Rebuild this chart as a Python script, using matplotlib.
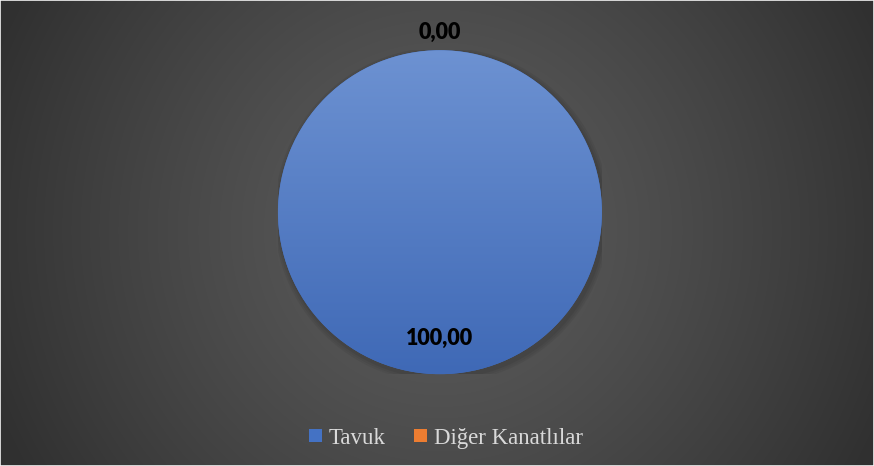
import numpy as np
import matplotlib.pyplot as plt
from matplotlib.patches import Circle

labels = ['Tavuk', 'Diğer Kanatlılar']
values = [100.0, 0.0]
value_texts = ['100,00', '0,00']
colors = ['#4472C4', '#ED7D31']

fig = plt.figure(figsize=(8.74, 4.66), dpi=100)

# radial grey background
bg = fig.add_axes([0, 0, 1, 1])
h, w = 466, 874
yy, xx = np.mgrid[0:h, 0:w]
r = np.sqrt((xx - 440) ** 2 + (yy - 230) ** 2) / 480.0
r = np.clip(r, 0, 1)
v = 0.36 - (0.36 - 0.19) * r ** 1.3
img = np.dstack([v, v, v])
bg.imshow(img, aspect='auto', extent=[0, 1, 0, 1], origin='upper')
bg.set_xlim(0, 1)
bg.set_ylim(0, 1)
bg.axis('off')
bg.add_patch(plt.Rectangle((0, 0), 1, 1, transform=bg.transAxes, fill=False,
                           edgecolor='#f2f2f2', lw=1.2))

ax = fig.add_axes([0.318, 0.197, 0.3707, 0.6953])
ax.set_xlim(-1, 1)
ax.set_ylim(-1, 1)
ax.axis('off')

# soft shadow
for i, a in enumerate([0.05, 0.05, 0.06]):
    ax.add_patch(Circle((0.012, -0.018), 1.0 + 0.012 * (3 - i), color='black',
                        alpha=a, lw=0, zorder=0))

wedges, _ = ax.pie(values, colors=colors, startangle=90, counterclock=False,
                   radius=1.0, wedgeprops=dict(lw=0))
ax.set_xlim(-1, 1)
ax.set_ylim(-1, 1)

# vertical gradient inside the blue wedge
gy = np.linspace(0, 1, 256).reshape(-1, 1)
top = np.array([0x6d, 0x92, 0xd2]) / 255.0
bot = np.array([0x3f, 0x69, 0xb6]) / 255.0
grad = top * (1 - gy[..., None]) + bot * gy[..., None]
grad = np.repeat(grad, 4, axis=1)
im = ax.imshow(grad, extent=[-1, 1, -1, 1], origin='upper', aspect='auto', zorder=2)
im.set_clip_path(wedges[0])

# data labels
dists = [0.78, 1.11]
for wd, txt, d in zip(wedges, value_texts, dists):
    ang = np.deg2rad((wd.theta1 + wd.theta2) / 2.0)
    if wd.theta2 - wd.theta1 >= 359:
        ang = np.deg2rad(-90)
    ax.text(d * np.cos(ang), d * np.sin(ang), txt, ha='center', va='center',
            fontsize=15.5, fontweight='heavy', family='Lato', color='black',
            zorder=5, clip_on=False)

leg = fig.legend(wedges, labels, loc='center', bbox_to_anchor=(0.51, 0.06),
                 ncol=2, frameon=False, handlelength=0.55, handleheight=0.55,
                 handletextpad=0.3, columnspacing=1.25,
                 prop={'family': 'Liberation Serif', 'size': 16.5})
for t in leg.get_texts():
    t.set_color('#d9d9d9')

fig.savefig('out.png', dpi=100)
